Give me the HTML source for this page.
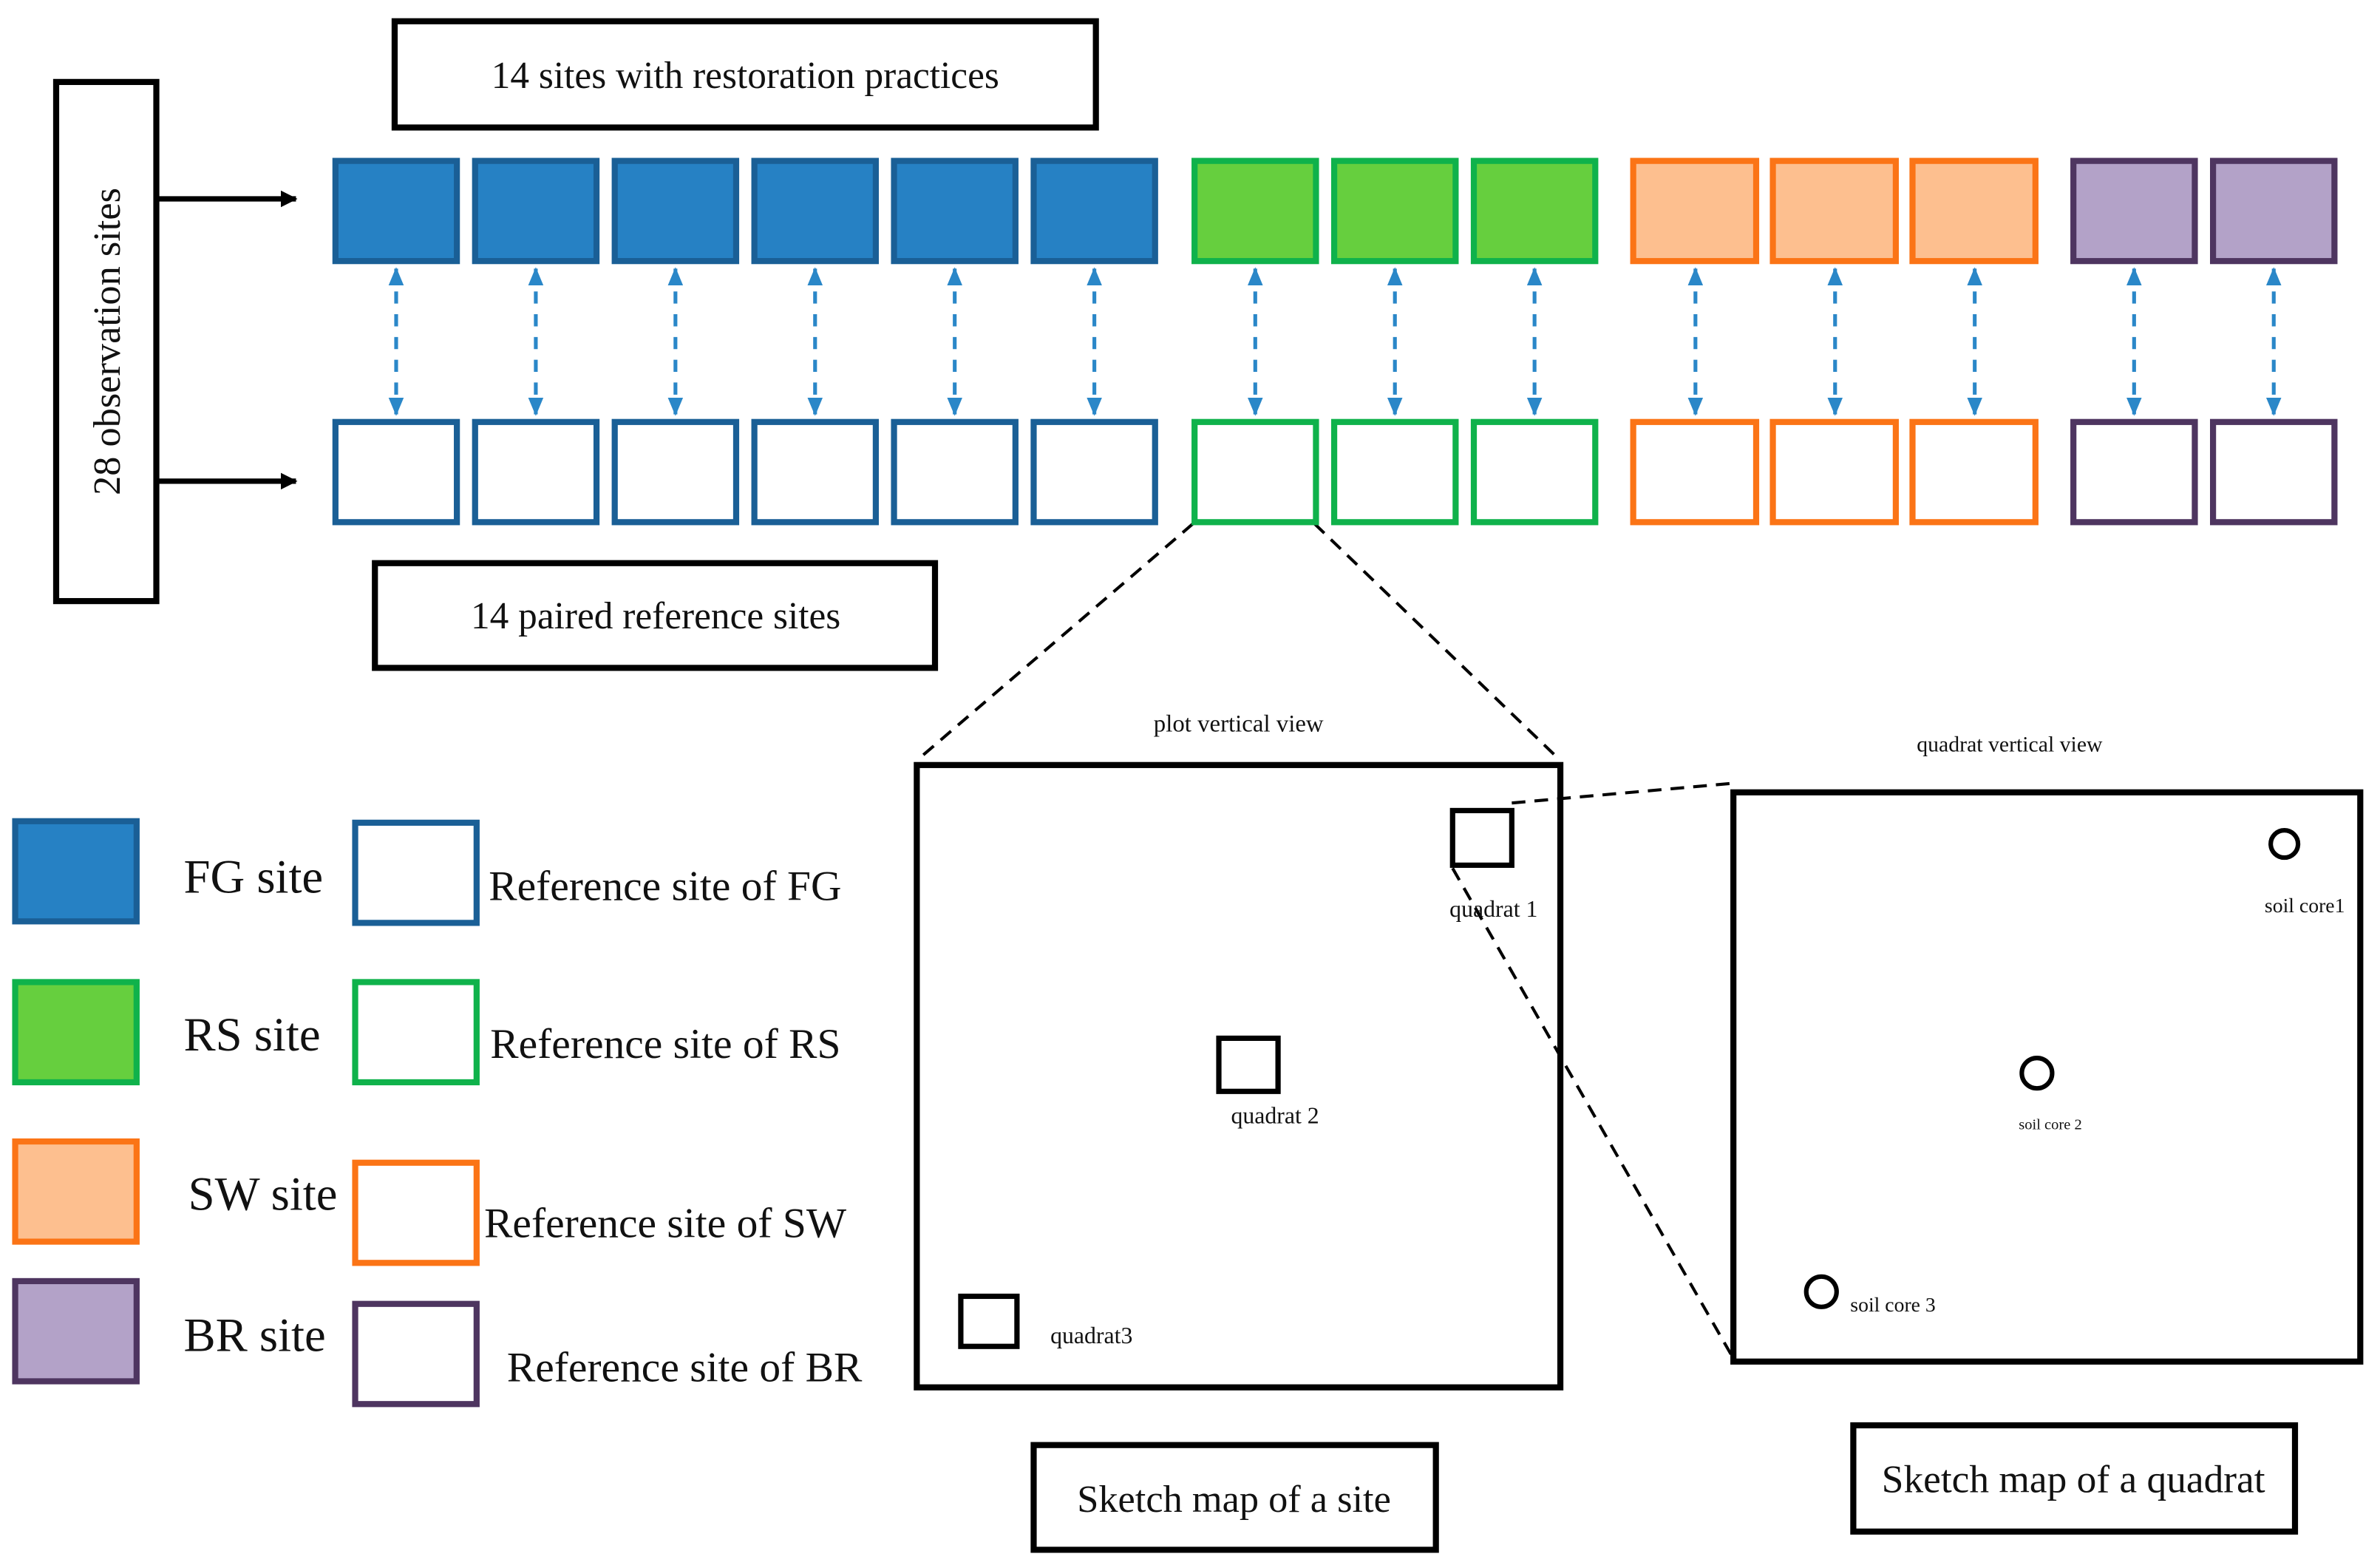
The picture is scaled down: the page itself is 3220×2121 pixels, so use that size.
<!DOCTYPE html>
<html><head><meta charset="utf-8"><style>
html,body{margin:0;padding:0;background:#fff;}
svg{display:block;}
text{font-family:"Liberation Serif",serif;fill:#111;}
</style></head><body>
<svg width="3220" height="2121" viewBox="0 0 1568 1033" preserveAspectRatio="none" xmlns="http://www.w3.org/2000/svg">
<defs>
<marker id="ah" markerWidth="11" markerHeight="11" refX="10" refY="5.5" orient="auto" markerUnits="userSpaceOnUse"><path d="M0,0 L11,5.5 L0,11 z" fill="#000"/></marker>
<marker id="bh" markerWidth="12" markerHeight="12" refX="11" refY="6" orient="auto-start-reverse" markerUnits="userSpaceOnUse"><path d="M0,1 L12,6 L0,11 z" fill="#2a87c8"/></marker>
</defs>
<g fill="none" stroke="#000" stroke-width="4">
<rect x="260" y="14" width="462" height="70"/>
<rect x="37" y="54" width="66" height="342"/>
<rect x="247" y="371" width="369" height="69"/>
<rect x="604" y="504" width="424" height="410"/>
<rect x="1142" y="522" width="413" height="375"/>
<rect x="681" y="952" width="265" height="69"/>
<rect x="1221" y="939" width="291" height="70"/>
<rect x="957" y="534" width="39" height="36" stroke-width="3.5"/>
<rect x="803" y="684" width="39" height="35" stroke-width="3.5"/>
<rect x="633" y="854" width="37" height="33" stroke-width="3.5"/>
<circle cx="1505" cy="556" r="9" stroke-width="3"/>
<circle cx="1342" cy="707" r="10" stroke-width="3"/>
<circle cx="1200" cy="851" r="10" stroke-width="3"/>
</g>
<line x1="103" y1="131" x2="195" y2="131" stroke="#000" stroke-width="3.5" marker-end="url(#ah)"/>
<line x1="103" y1="317" x2="195" y2="317" stroke="#000" stroke-width="3.5" marker-end="url(#ah)"/>
<g stroke="#000" stroke-width="2" stroke-dasharray="9,6" fill="none">
<line x1="786" y1="345" x2="604" y2="501"/>
<line x1="866" y1="345" x2="1028" y2="501"/>
<line x1="996" y1="529" x2="1142" y2="516"/>
<line x1="957" y1="572" x2="1142" y2="895"/>
</g>
<g stroke-width="4">
<g fill="#2681c4" stroke="#1a5f96">
<rect x="221" y="106" width="80" height="66"/><rect x="313" y="106" width="80" height="66"/><rect x="405" y="106" width="80" height="66"/><rect x="497" y="106" width="80" height="66"/><rect x="589" y="106" width="80" height="66"/><rect x="681" y="106" width="80" height="66"/>
<rect x="10" y="541" width="80" height="66"/>
</g>
<g fill="#fff" stroke="#1a5f96">
<rect x="221" y="278" width="80" height="66"/><rect x="313" y="278" width="80" height="66"/><rect x="405" y="278" width="80" height="66"/><rect x="497" y="278" width="80" height="66"/><rect x="589" y="278" width="80" height="66"/><rect x="681" y="278" width="80" height="66"/>
<rect x="234" y="542" width="80" height="66"/>
</g>
<g fill="#66cf3e" stroke="#0fb24b">
<rect x="787" y="106" width="80" height="66"/><rect x="879" y="106" width="80" height="66"/><rect x="971" y="106" width="80" height="66"/>
<rect x="10" y="647" width="80" height="66"/>
</g>
<g fill="#fff" stroke="#0fb24b">
<rect x="787" y="278" width="80" height="66"/><rect x="879" y="278" width="80" height="66"/><rect x="971" y="278" width="80" height="66"/>
<rect x="234" y="647" width="80" height="66"/>
</g>
<g fill="#fdbf8f" stroke="#fb7416">
<rect x="1076" y="106" width="81" height="66"/><rect x="1168" y="106" width="81" height="66"/><rect x="1260" y="106" width="81" height="66"/>
<rect x="10" y="752" width="80" height="66"/>
</g>
<g fill="#fff" stroke="#fb7416">
<rect x="1076" y="278" width="81" height="66"/><rect x="1168" y="278" width="81" height="66"/><rect x="1260" y="278" width="81" height="66"/>
<rect x="234" y="766" width="80" height="66"/>
</g>
<g fill="#b3a2c8" stroke="#4e3560">
<rect x="1366" y="106" width="80" height="66"/><rect x="1458" y="106" width="80" height="66"/>
<rect x="10" y="844" width="80" height="66"/>
</g>
<g fill="#fff" stroke="#4e3560">
<rect x="1366" y="278" width="80" height="66"/><rect x="1458" y="278" width="80" height="66"/>
<rect x="234" y="859" width="80" height="66"/>
</g>
</g>
<g stroke="#2a87c8" stroke-width="2.5" stroke-dasharray="8,7" marker-start="url(#bh)" marker-end="url(#bh)">
<line x1="261" y1="177" x2="261" y2="273"/><line x1="353" y1="177" x2="353" y2="273"/><line x1="445" y1="177" x2="445" y2="273"/><line x1="537" y1="177" x2="537" y2="273"/><line x1="629" y1="177" x2="629" y2="273"/><line x1="721" y1="177" x2="721" y2="273"/>
<line x1="827" y1="177" x2="827" y2="273"/><line x1="919" y1="177" x2="919" y2="273"/><line x1="1011" y1="177" x2="1011" y2="273"/>
<line x1="1117" y1="177" x2="1117" y2="273"/><line x1="1209" y1="177" x2="1209" y2="273"/><line x1="1301" y1="177" x2="1301" y2="273"/>
<line x1="1406" y1="177" x2="1406" y2="273"/><line x1="1498" y1="177" x2="1498" y2="273"/>
</g>
<text x="491" y="58" font-size="25" text-anchor="middle">14 sites with restoration practices</text>
<text x="0" y="0" font-size="25.5" text-anchor="middle" transform="translate(79,225) rotate(-90)">28 observation sites</text>
<text x="432" y="414" font-size="25" text-anchor="middle">14 paired reference sites</text>
<text x="121" y="588" font-size="31.5">FG site</text>
<text x="121" y="692" font-size="31.5">RS site</text>
<text x="124" y="797" font-size="31.5">SW site</text>
<text x="121" y="890" font-size="31.5">BR site</text>
<text x="322" y="593" font-size="28">Reference site of FG</text>
<text x="323" y="697" font-size="28">Reference site of RS</text>
<text x="319" y="815" font-size="28">Reference site of SW</text>
<text x="334" y="910" font-size="28">Reference site of BR</text>
<text x="816" y="482" font-size="16" text-anchor="middle">plot vertical view</text>
<text x="1324" y="495" font-size="14.5" text-anchor="middle">quadrat vertical view</text>
<text x="955" y="604" font-size="15.5">quadrat 1</text>
<text x="811" y="740" font-size="15.5">quadrat 2</text>
<text x="692" y="885" font-size="15.5">quadrat3</text>
<text x="1492" y="601" font-size="13.5">soil core1</text>
<text x="1330" y="744" font-size="10">soil core 2</text>
<text x="1219" y="864" font-size="13.5">soil core 3</text>
<text x="813" y="996" font-size="25.5" text-anchor="middle">Sketch map of a site</text>
<text x="1366" y="983" font-size="26" text-anchor="middle">Sketch map of a quadrat</text>
</svg>
</body></html>
